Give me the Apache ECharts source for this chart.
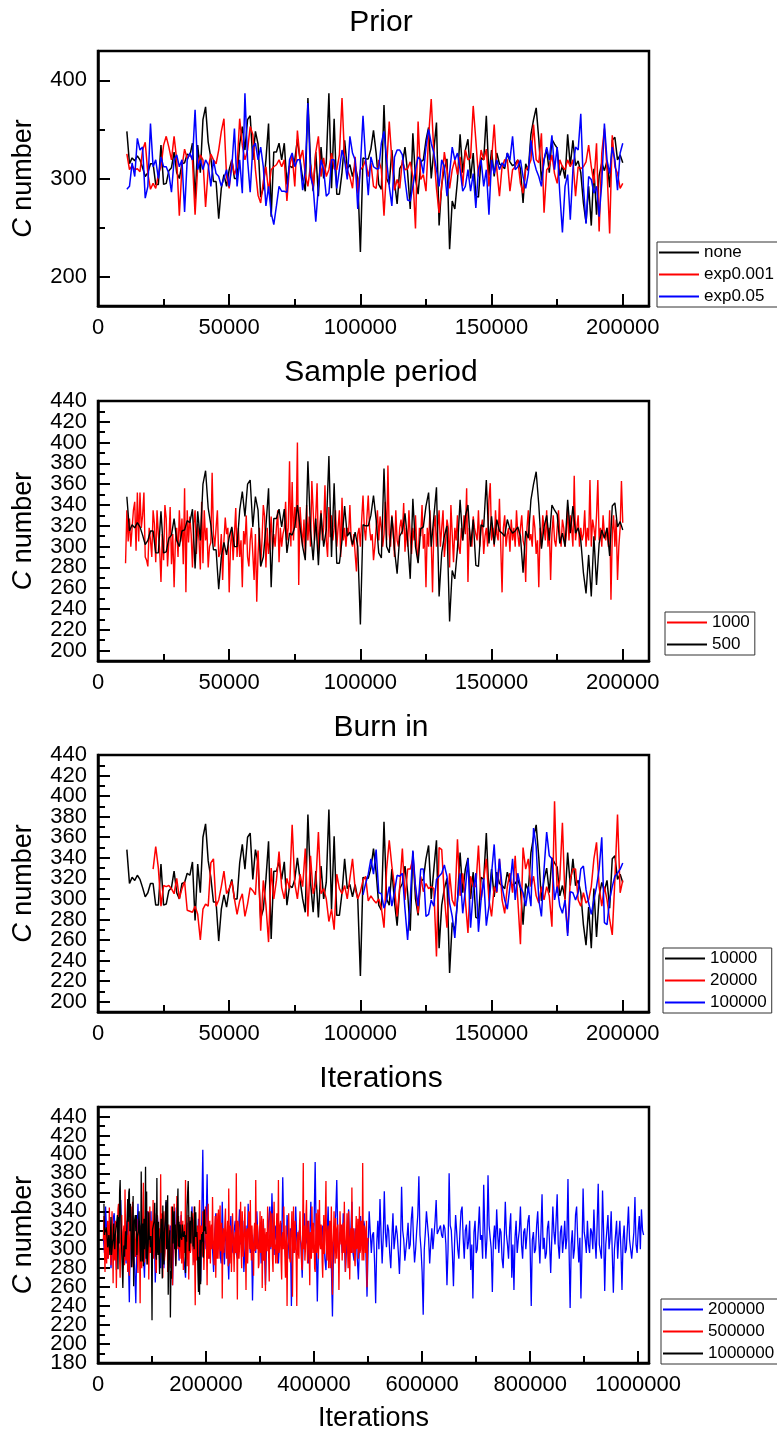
<!DOCTYPE html>
<html>
<head>
<meta charset="utf-8">
<script src="https://cdn.jsdelivr.net/npm/echarts@6/dist/echarts.min.js"></script>
<style>
  html, body { margin: 0; padding: 0; background: #fff; }
  #chart { width: 777px; height: 1437px; }
</style>
</head>
<body>
<div id="chart"></div>
<script>
// black trace (burn in 10000, sampled every 1000), drawn in every panel
const baseStart = 11000, baseStep = 1000;
const base = [
  348,315,321,318,323,319,311,302,306,315,
  315,294,294,334,294,295,308,311,327,306,
  300,315,316,325,323,336,279,334,306,360,
  373,337,321,297,297,259,290,304,292,309,
  319,300,300,335,353,329,360,364,319,348,
  335,281,290,319,356,261,327,327,336,319,
  336,294,313,311,319,340,319,300,287,382,
  316,287,327,282,332,300,316,387,290,361,
  284,284,306,339,310,314,302,314,300,225,
  321,320,320,330,349,326,294,289,375,300,
  294,329,297,274,310,315,332,306,269,346,
  300,284,317,319,339,352,300,329,357,252,
  294,310,320,228,277,269,298,345,306,329,
  340,300,326,282,281,321,319,364,303,329,
  302,326,315,313,310,326,317,313,315,319,
  310,275,315,308,345,360,372,340,298,319,
  330,306,340,335,331,303,313,300,345,313,
  339,313,318,306,275,255,292,252,310,263,
  303,316,308,318,291,339,342,319,324,316
];

// Prior panel (start 11000, step 1000)
const priorExp001 = [
  325,309,313,309,310,307,329,337,305,289,
  295,290,304,312,334,343,332,319,343,319,
  262,312,330,320,325,319,263,312,324,319,
  271,309,325,319,315,329,348,361,302,290,
  319,304,312,361,334,319,329,353,345,309,
  283,275,297,312,287,309,312,314,319,312,
  319,277,312,324,292,349,319,329,304,292,
  314,290,327,343,302,321,302,309,326,310,
  309,324,382,319,309,302,290,322,285,309,
  312,319,302,
  316,292,290,319,309,262,312,358,319,288,
  299,290,319,309,310,317,302,249,358,299,
  304,287,343,381,326,290,265,292,327,309,
  290,309,319,304,322,292,329,319,321,374,
  339,302,329,319,330,292,319,355,309,282,
  312,319,319,287,309,312,319,295,285,309,
  312,319,355,319,316,346,265,309,312,324,
  305,295,319,312,309,319,312,319,282,312,
  310,312,317,334,312,295,336,246,326,351,
  309,244,344,312,305,290,295
];
const priorExp005 = [
  289,292,316,302,341,329,332,280,292,356,
  312,319,300,322,312,312,305,286,319,324,
  312,319,266,319,326,319,370,309,319,309,
  319,314,292,319,305,302,292,300,309,292,
  312,351,292,319,285,387,319,286,332,336,
  319,332,312,272,292,265,253,272,292,287,
  287,286,319,326,312,319,319,288,309,377,
  302,292,256,292,319,309,282,285,319,319,
  290,309,329,319,299,343,326,319,269,312,
  364,319,283,
  322,312,310,310,336,348,319,292,272,322,
  329,329,324,299,278,277,292,309,322,319,
  305,332,350,336,326,309,292,319,312,282,
  305,332,319,326,309,287,292,309,287,305,
  270,309,319,292,309,263,319,305,319,309,
  316,312,326,319,343,309,312,319,302,290,
  305,339,319,309,302,292,319,332,319,344,
  309,332,285,245,292,304,258,309,332,329,
  366,292,254,302,299,285,292,261,295,356,
  319,305,332,319,288,326,336
];

// Sample period panel, red trace (start 10500, step 500)
const periodStart = 10500, periodStep = 500;
const period1000 = [
  284,335,305,327,300,318,335,343,296,352,305,352,318,330,352,290,287,281,318,306,
  290,335,322,285,335,312,297,266,312,287,340,327,281,304,338,283,312,261,306,318,
  290,335,305,327,283,356,256,335,304,329,312,280,322,335,293,322,306,278,343,284,
  335,306,318,280,300,304,371,312,300,318,335,290,293,312,268,306,328,312,318,256,
  300,318,287,312,337,290,318,290,306,261,315,302,330,290,281,306,318,293,268,312,
  247,293,318,281,306,340,329,280,318,293,306,329,297,312,300,318,335,285,318,300,
  312,318,343,306,318,382,300,362,306,338,318,400,263,338,318,300,326,290,340,306,
  329,300,363,335,306,330,361,293,318,335,306,318,359,306,290,338,309,330,306,318,
  335,300,318,335,290,347,306,318,300,318,312,340,306,300,312,293,276,312,318,300,
  326,349,318,306,329,349,318,306,312,287,300,318,335,306,329,318,300,312,343,306,
  378,312,300,330,318,290,335,306,300,318,326,312,342,295,318,300,335,310,293,318,
  306,330,300,285,318,310,340,298,312,261,318,300,335,306,256,318,330,300,318,335,
  300,318,335,290,306,326,318,280,340,312,285,318,306,330,300,293,318,306,330,312,
  356,266,318,306,300,329,318,312,306,335,300,318,326,293,310,318,300,345,361,306,
  318,300,335,312,306,346,300,256,318,330,300,312,318,295,326,306,318,300,335,312,
  300,318,330,306,300,266,318,335,306,312,300,330,318,293,306,261,318,300,330,318,
  306,335,300,318,268,312,330,306,300,318,335,312,300,326,318,300,312,338,306,330,
  318,300,368,306,318,330,300,318,306,312,335,300,318,306,364,300,326,318,306,330,
  364,306,318,300,330,312,306,318,300,335,249,312,330,300,326,268,300,318,363,323
];

// Burn in panel (step 1000)
const burn20000Start = 21000, burn100000Start = 101000;
const burn20000 = [
  329,351,330,293,313,312,313,310,305,320,
  300,310,317,289,288,287,293,285,260,290,
  295,293,335,339,293,299,312,327,305,310,
  317,300,285,298,305,283,295,311,308,304,
  347,269,318,294,258,330,300,318,346,311,
  300,320,310,372,315,300,324,312,349,283,
  342,305,315,365,305,310,300,278,290,270,
  324,310,305,313,300,320,339,310,300,307,
  318,322,298,
  303,299,296,300,291,272,329,357,332,312,
  283,312,349,299,329,329,339,312,286,322,
  307,315,310,312,310,244,350,348,303,272,
  325,299,293,358,303,325,299,267,322,312,
  312,352,299,319,339,299,283,312,306,339,
  299,286,312,325,306,342,299,256,350,329,
  339,312,322,303,296,312,299,312,303,273,
  395,306,319,374,299,267,319,329,329,299,
  293,306,296,299,312,339,355,312,293,312,
  299,280,265,319,382,306,318
];
const burn100000 = [
  304,315,324,
  339,324,348,306,305,291,299,312,293,307,
  323,322,325,290,260,299,347,312,293,329,
  329,283,285,299,293,319,322,325,333,322,
  296,283,262,299,325,286,309,339,272,307,
  325,268,299,320,274,293,325,353,307,339,
  312,299,290,312,339,299,325,312,306,293,
  312,293,369,351,299,283,329,365,342,339,
  299,312,293,286,299,264,307,306,299,306,
  329,332,309,296,285,299,312,329,360,277,
  275,299,312,322,325,329,335
];

// Iterations panel
const iter500000Start = 10000, iter500000Step = 1000;
const iter500000 = [
  310,335,298,276,322,300,285,318,330,290,301,344,318,296,283,312,340,305,264,326,
  305,288,330,310,259,297,322,342,348,303,290,270,312,326,336,294,280,318,325,283,
  363,320,288,305,315,276,340,312,272,298,326,345,300,281,350,310,284,330,318,292,
  296,315,332,288,275,320,310,296,243,325,302,280,318,340,370,305,286,318,335,300,
  300,284,328,340,268,312,345,296,310,330,286,305,352,290,298,338,322,280,275,314,
  336,300,305,322,290,308,379,296,312,338,270,315,340,288,296,318,325,302,348,276,
  288,326,318,296,302,280,345,312,262,304,330,348,310,295,284,322,356,308,300,335,
  322,300,290,316,340,285,305,330,278,312,326,296,373,320,298,282,315,336,268,305,
  334,296,300,320,318,338,283,302,345,290,241,315,310,288,325,300,290,333,352,308,
  296,325,318,292,340,310,278,300,308,345,330,298,262,316,348,290,305,330,285,315,
  326,300,355,318,296,283,312,335,270,306,338,290,318,342,290,320,346,298,300,328,
  248,305,322,296,310,330,343,300,290,318,330,282,364,310,285,325,315,276,300,338,
  338,300,276,312,318,296,380,305,247,330,325,290,302,318,350,296,280,340,316,292,
  294,326,345,300,257,318,322,285,306,340,335,300,352,310,288,325,310,294,272,320,
  328,298,373,310,300,326,318,280,284,312,340,296,312,335,259,305,332,288,295,322,
  256,312,318,298,345,320,290,266,326,340,302,318,338,290,276,322,350,300,305,285,
  315,338,285,310,373,296,300,325,330,286,268,312,318,300,345,315,292,270,325,306,
  240,300,310,338,336,290,286,318,322,340,250,305,345,296,300,330,328,286,240,310,
  318,296,290,325,340,310,306,282,278,330,391,300,325,288,300,336,352,305,285,320,
  330,300,262,318,315,290,345,312,296,328,320,280,276,310,338,296,305,342,290,315,
  352,305,300,326,318,286,270,312,336,295,310,340,372,300,288,318,325,280,302,330,
  280,312,345,296,252,305,318,340,300,285,333,310,290,322,326,298,257,300,340,318,
  305,326,288,310,328,296,350,315,276,300,315,338,300,280,340,312,268,305,322,296,
  365,310,296,322,318,290,282,315,335,300,306,332,290,312,345,296,300,330,325,288,
  391,310,288,325,320,296,300,330,260,305,312
];
const iter200000Start = 10000, iter200000Step = 2000;
const iter200000 = [
  312,296,345,318,290,305,326,280,300,332,338,310,278,300,320,340,352,305,295,322,
  310,285,330,300,244,320,318,335,300,278,243,310,348,300,286,325,332,296,270,318,
  322,340,296,318,340,290,308,326,265,300,335,318,300,280,318,336,280,305,350,312,
  298,318,325,300,262,310,344,296,310,330,288,312,336,300,302,285,270,315,328,300,
  305,322,345,300,286,318,315,296,332,300,266,330,405,310,300,322,379,296,290,318,
  325,300,276,315,338,296,310,330,296,285,350,305,284,318,320,300,268,312,335,296,
  302,320,330,296,290,318,342,305,312,330,276,300,325,290,348,312,296,320,246,305,
  318,296,340,312,300,325,285,310,330,300,262,305,312,330,345,300,359,318,294,325,
  310,330,285,306,328,300,376,315,302,286,336,312,290,322,240,300,318,296,345,310,
  296,318,322,300,270,312,338,305,308,330,285,315,350,300,300,326,392,310,245,300,
  330,305,300,325,318,290,278,312,345,300,310,282,229,300,320,336,373,310,290,318,
  315,296,338,310,276,300,326,342,300,318,350,296,288,322,316,290,268,305,335,312,
  305,330,322,296,250,300,340,318,296,315,318,286,243,305,330,300,353,316,285,312,
  361,318,302,326,320,296,280,312,338,300,300,325,315,296,274,305,366,320,310,288,
  290,312,328,300,305,332,345,310,286,300,320,336,377,315,300,276,231,300,318,340,
  340,312,285,305,322,300,300,330,352,316,318,322,325,315,312,326,322,305,262,300,
  380,325,320,296,261,305,336,318,300,290,318,340,345,312,290,320,326,300,308,330,
  278,305,248,318,330,296,300,322,345,310,315,290,368,320,290,312,378,325,312,300,
  255,310,325,300,342,315,296,322,318,290,280,310,350,316,305,290,322,338,270,305,
  257,312,330,296,310,320,345,305,290,318,322,300,300,330,336,300,240,310,318,296,
  300,325,340,310,285,318,358,300,312,290,296,322,330,305,275,310,345,318,305,330,
  358,305,290,318,325,296,310,330,300,312,374,300,238,305,320,290,300,336,345,310,
  286,312,248,300,364,318,310,296,330,305,296,322,318,300,342,310,290,326,369,305,
  305,290,362,318,256,305,320,336,300,312,340,296,254,300,315,330,290,312,330,300,
  257,310,325,296,300,322,345,310,312,290,288,318,355,305,296,320,335,300,342,320,
  315
];

// tick labels
const xTicksShort = [0, 50000, 100000, 150000, 200000];
const xMinorShort = [25000, 75000, 125000, 175000];
const xTicksLong = [0, 200000, 400000, 600000, 800000, 1000000];
const xMinorLong = [100000, 300000, 500000, 700000, 900000];
const yTicksPrior = [200, 300, 400];
const yMinorPrior = [250, 350];
const yTicks20 = [200, 220, 240, 260, 280, 300, 320, 340, 360, 380, 400, 420, 440];
const yMinor20 = [210, 230, 250, 270, 290, 310, 330, 350, 370, 390, 410, 430];
const yTicksIter = [180, 200, 220, 240, 260, 280, 300, 320, 340, 360, 380, 400, 420, 440];
const yMinorIter = [190, 210, 230, 250, 270, 290, 310, 330, 350, 370, 390, 410, 430];

const FONT = "'Liberation Sans', Arial, Helvetica, sans-serif";
const BLACK = '#000000', RED = '#ff0000', BLUE = '#0000ff';
const GRID_LEFT = 98, GRID_WIDTH = 551;

const pairs = (vals, start, step) => vals.map((v, k) => [start + k * step, v]);

const panels = [
  {
    title: 'Prior', titleY: 23, top: 51, height: 255, lineWidth: 1.5,
    xMax: 210000, xMajor: xTicksShort, xMinor: xMinorShort,
    yMin: 170, yMax: 430, yMajor: yTicksPrior, yMinor: yMinorPrior,
    legend: { left: 657, top: 242, data: ['none', 'exp0.001', 'exp0.05'] },
    series: [
      { name: 'none', color: BLACK, data: pairs(base, baseStart, baseStep) },
      { name: 'exp0.001', color: RED, data: pairs(priorExp001, baseStart, baseStep) },
      { name: 'exp0.05', color: BLUE, data: pairs(priorExp005, baseStart, baseStep) }
    ]
  },
  {
    title: 'Sample period', titleY: 373, top: 401, height: 260, lineWidth: 1.4,
    xMax: 210000, xMajor: xTicksShort, xMinor: xMinorShort,
    yMin: 190, yMax: 440, yMajor: yTicks20, yMinor: yMinor20,
    legend: { left: 665, top: 612, data: ['1000', '500'] },
    series: [
      { name: '1000', color: RED, data: pairs(period1000, periodStart, periodStep) },
      { name: '500', color: BLACK, data: pairs(base, baseStart, baseStep) }
    ]
  },
  {
    title: 'Burn in', titleY: 728, top: 755, height: 257, lineWidth: 1.5,
    xMax: 210000, xMajor: xTicksShort, xMinor: xMinorShort,
    yMin: 190, yMax: 440, yMajor: yTicks20, yMinor: yMinor20,
    legend: { left: 663, top: 948, data: ['10000', '20000', '100000'] },
    series: [
      { name: '10000', color: BLACK, data: pairs(base, baseStart, baseStep) },
      { name: '20000', color: RED, data: pairs(burn20000, burn20000Start, 1000) },
      { name: '100000', color: BLUE, data: pairs(burn100000, burn100000Start, 1000) }
    ]
  },
  {
    title: 'Iterations', titleY: 1079, top: 1107, height: 256, lineWidth: 1.3,
    xMax: 1020000, xMajor: xTicksLong, xMinor: xMinorLong, xName: 'Iterations',
    yMin: 180, yMax: 450, yMajor: yTicksIter, yMinor: yMinorIter,
    legend: { left: 661, top: 1299, data: ['200000', '500000', '1000000'] },
    series: [
      { name: '200000', color: BLUE, data: pairs(iter200000, iter200000Start, iter200000Step) },
      { name: '500000', color: RED, data: pairs(iter500000, iter500000Start, iter500000Step) },
      { name: '1000000', color: BLACK, data: pairs(base, baseStart, baseStep) }
    ]
  }
];

const grid = [], xAxis = [], yAxis = [], legend = [], series = [], graphic = [];
const tickLine = { color: '#000', width: 2 };
const labelStyle = { fontSize: 22, color: '#000', fontFamily: FONT, margin: 11 };

// helper axes that only carry ticks; placed on the opposite side and shifted
// onto the frame edge so their outward ticks point into the plot box
const xTickAxis = (i, p, values, len) => ({
  type: 'value', gridIndex: i, min: 0, max: p.xMax,
  position: 'top', offset: -p.height,
  axisLine: { show: false, onZero: false },
  axisTick: { show: true, inside: false, length: len, customValues: values, lineStyle: tickLine },
  axisLabel: { show: false }, splitLine: { show: false }
});
const yTickAxis = (i, p, values, len) => ({
  type: 'value', gridIndex: i, min: p.yMin, max: p.yMax,
  position: 'right', offset: -GRID_WIDTH,
  axisLine: { show: false, onZero: false },
  axisTick: { show: true, inside: false, length: len, customValues: values, lineStyle: tickLine },
  axisLabel: { show: false }, splitLine: { show: false }
});
// labels are shared between two left axes so neighbouring labels never get culled
const yLabelAxis = (i, p, values, extra) => Object.assign({
  type: 'value', gridIndex: i, min: p.yMin, max: p.yMax, position: 'left', offset: 0,
  axisLine: { show: false, onZero: false },
  axisTick: { show: false },
  axisLabel: Object.assign({ show: true, customValues: values, formatter: v => String(v) }, labelStyle),
  splitLine: { show: false }
}, extra || {});

panels.forEach((p, i) => {
  grid.push({
    left: GRID_LEFT, width: GRID_WIDTH, top: p.top, height: p.height,
    show: true, borderColor: '#000', borderWidth: 2.5, backgroundColor: 'transparent'
  });
  xAxis.push({
    type: 'value', gridIndex: i, min: 0, max: p.xMax, position: 'bottom',
    axisLine: { show: true, onZero: false, lineStyle: { color: '#000', width: 2.5 } },
    axisTick: { show: false },
    axisLabel: Object.assign({ show: true, customValues: p.xMajor, formatter: v => String(v) }, labelStyle),
    splitLine: { show: false },
    name: p.xName || '', nameLocation: 'middle', nameGap: 42,
    nameTextStyle: { fontSize: 27, color: '#000', fontFamily: FONT }
  });
  xAxis.push(xTickAxis(i, p, p.xMajor, 12));
  xAxis.push(xTickAxis(i, p, p.xMinor, 7));

  const labelsA = p.yMajor.filter((v, k) => k % 2 === 0);
  const labelsB = p.yMajor.filter((v, k) => k % 2 === 1);
  yAxis.push(yLabelAxis(i, p, labelsA, {
    axisLine: { show: true, onZero: false, lineStyle: { color: '#000', width: 2.5 } },
    name: '{i|C} number', nameLocation: 'middle', nameGap: 61, nameRotate: 90,
    nameTextStyle: {
      fontSize: 27, color: '#000', fontFamily: FONT,
      rich: { i: { fontSize: 27, fontStyle: 'italic', color: '#000', fontFamily: FONT } }
    }
  }));
  yAxis.push(yLabelAxis(i, p, labelsB));
  yAxis.push(yTickAxis(i, p, p.yMajor, 12));
  yAxis.push(yTickAxis(i, p, p.yMinor, 7));

  legend.push({
    left: p.legend.left, top: p.legend.top, orient: 'vertical',
    data: p.legend.data, selectedMode: false,
    icon: 'rect', itemWidth: 40, itemHeight: 2, itemGap: 5,
    padding: [2, 5, 2, 2],
    borderColor: '#333', borderWidth: 1, borderRadius: 0, backgroundColor: '#fff',
    textStyle: { fontSize: 17, lineHeight: 17, color: '#000', fontFamily: FONT }
  });

  p.series.forEach(s => {
    series.push({
      type: 'line', name: s.name, xAxisIndex: 3 * i, yAxisIndex: 4 * i,
      data: s.data, symbol: 'none', showSymbol: false,
      color: s.color, lineStyle: { color: s.color, width: p.lineWidth },
      itemStyle: { color: s.color }, silent: true
    });
  });

  graphic.push({
    type: 'text', x: 381, y: p.titleY,
    style: {
      text: p.title, fontSize: 30, fontFamily: FONT, fill: '#000',
      align: 'center', verticalAlign: 'middle', textAlign: 'center', textVerticalAlign: 'middle'
    }
  });
});

const chart = echarts.init(document.getElementById('chart'));
chart.setOption({
  animation: false,
  backgroundColor: '#fff',
  grid, xAxis, yAxis, legend, series, graphic
});
</script>
</body>
</html>
